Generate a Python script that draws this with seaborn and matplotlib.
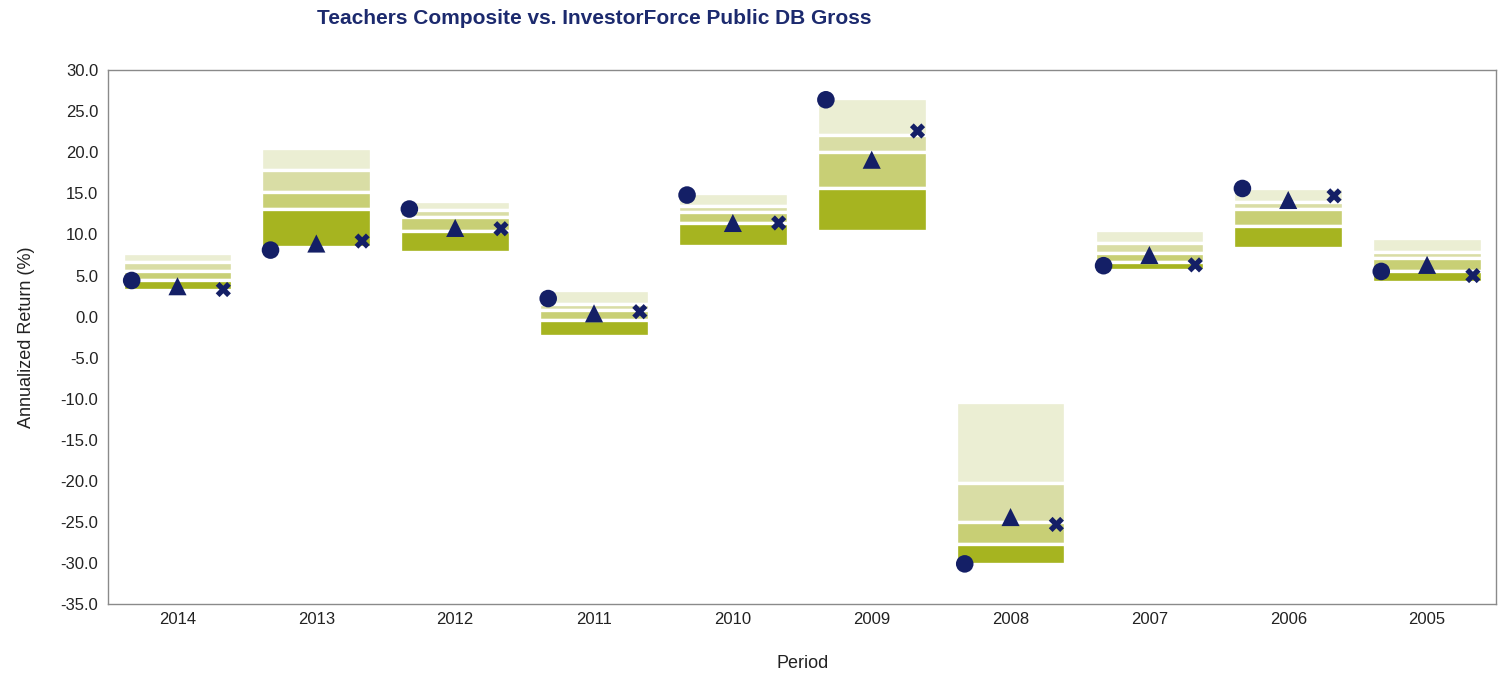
import numpy as np
import pandas as pd
import matplotlib
matplotlib.use("Agg")
import matplotlib.pyplot as plt
import seaborn as sns
from matplotlib import font_manager

# ---------------- data ----------------
years = ['2014', '2013', '2012', '2011', '2010', '2009', '2008', '2007', '2006', '2005']
p5 = [7.7, 20.5, 14.1, 3.3, 15.0, 26.6, -10.4, 10.5, 15.6, 9.6]
p25 = [6.7, 17.8, 13.0, 1.5, 13.5, 22.1, -20.2, 9.0, 14.0, 7.9]
p50 = [5.6, 15.2, 12.1, 0.8, 12.7, 20.0, -25.0, 7.7, 13.1, 7.1]
p75 = [4.5, 13.1, 10.4, -0.4, 11.4, 15.6, -27.7, 6.7, 11.0, 5.6]
p95 = [3.2, 8.5, 7.9, -2.4, 8.6, 10.4, -30.1, 5.7, 8.4, 4.2]

teachers = [4.4, 8.1, 13.1, 2.2, 14.8, 26.4, -30.1, 6.2, 15.6, 5.5]
policy = [3.7, 8.9, 10.8, 0.4, 11.4, 19.1, -24.4, 7.5, 14.2, 6.3]
allocation = [3.3, 9.2, 10.7, 0.6, 11.4, 22.6, -25.3, 6.3, 14.7, 5.0]

yticks = [30.0, 25.0, 20.0, 15.0, 10.0, 5.0, 0.0, -5.0, -10.0, -15.0, -20.0, -25.0, -30.0, -35.0]

# ---------------- style ----------------
sns.set_theme(style="white")
names = {f.name for f in font_manager.fontManager.ttflist}
narrow = 'Liberation Sans Narrow' if 'Liberation Sans Narrow' in names else 'Liberation Sans'
plt.rcParams['font.family'] = [narrow, 'DejaVu Sans']

navy = '#141f66'
seg_colors = ['#ebeed3', '#d9dda5', '#c8cf75', '#a6b420']  # top (p5-p25) -> bottom (p75-p95)

fig = plt.figure(figsize=(15.01, 6.75), dpi=100)
ax = fig.add_axes([0.072, 0.105, 0.925, 0.791])

x = np.arange(len(years))
bounds = [p5, p25, p50, p75, p95]
for i in range(4):
    top = np.array(bounds[i])
    bot = np.array(bounds[i + 1])
    ax.bar(x, top - bot, bottom=bot, width=0.79, color=seg_colors[i],
           edgecolor='white', linewidth=2.4, zorder=2)

df = pd.DataFrame({
    'pos': np.concatenate([x - 0.33, x, x + 0.33]),
    'value': teachers + policy + allocation,
    'series': ['Teachers Composite'] * 10 + ['Policy Index'] * 10 + ['Allocation Index'] * 10,
})
sns.scatterplot(data=df, x='pos', y='value', style='series',
                markers={'Teachers Composite': 'o', 'Policy Index': '^', 'Allocation Index': 'X'},
                size='series', sizes={'Teachers Composite': 160, 'Policy Index': 170, 'Allocation Index': 120},
                color=navy, edgecolor='none', linewidth=0, legend=False, ax=ax, zorder=5)

ax.set_xlim(-0.5, len(years) - 0.5)
ax.set_ylim(-35, 30)
ax.set_xticks(x)
ax.set_xticklabels(years, fontsize=12, color='#222222')
ax.set_yticks(yticks)
ax.set_yticklabels([f"{t:.1f}" for t in yticks], fontsize=12, color='#222222')
ax.tick_params(axis='y', which='major', direction='out', length=5, width=0.8, color='#888888', pad=2)
ax.tick_params(axis='x', which='major', length=0, pad=6)
for s in ax.spines.values():
    s.set_color('#8a8a8a')
    s.set_linewidth(1.0)
    s.set_visible(True)

ax.set_xlabel('Period', fontsize=13, color='#222222', labelpad=20,
              family=['Liberation Sans', 'DejaVu Sans'])
ax.set_ylabel('Annualized Return (%)', fontsize=13, color='#222222', labelpad=18,
              family=['Liberation Sans', 'DejaVu Sans'])

fig.text(0.396, 0.972, 'Teachers Composite vs. InvestorForce Public DB Gross',
         ha='center', va='center', fontsize=15, fontweight='bold', color='#1c2a6e')

fig.savefig('out.png', dpi=100)
